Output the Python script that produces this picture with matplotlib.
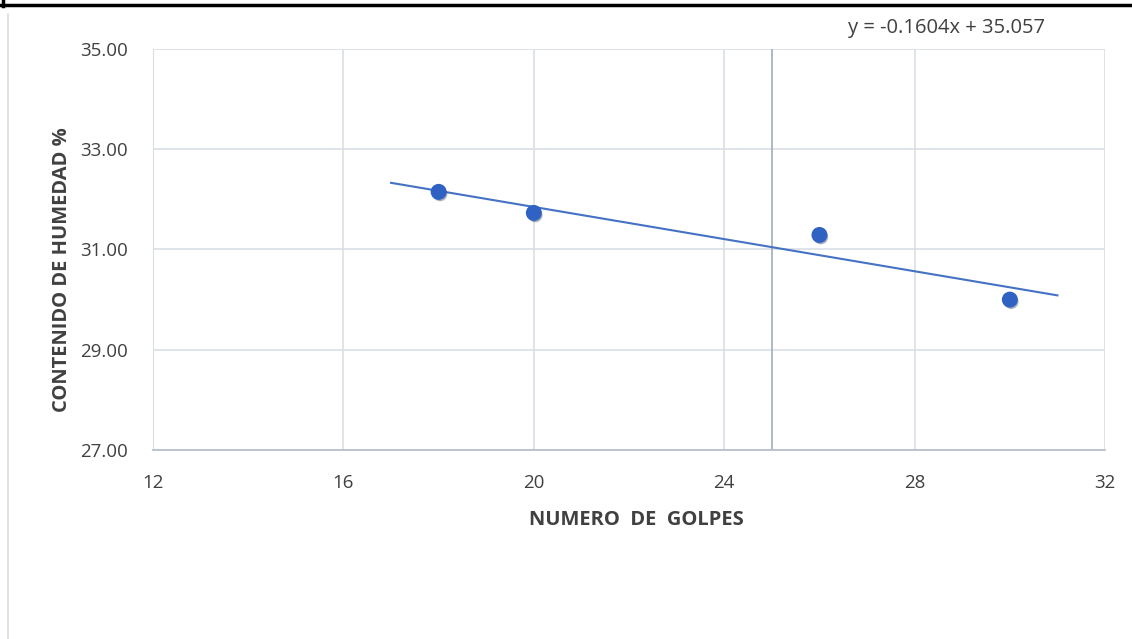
import matplotlib
matplotlib.use("Agg")
import matplotlib.pyplot as plt
from matplotlib.lines import Line2D
import matplotlib.patheffects as pe
import numpy as np

# data
golpes = [18, 20, 26, 30]
humedad = [32.15, 31.73, 31.29, 30.00]
slope = -0.1604
intercept = 35.057
trend_x = [17, 31]
x_ticks = [12, 16, 20, 24, 28, 32]
y_ticks = [27, 29, 31, 33, 35]
x_ref = 25

plt.rcParams['font.family'] = ['Open Sans', 'DejaVu Sans']
txt = '#404040'

fig = plt.figure(figsize=(11.32, 6.39), dpi=100)
ax = fig.add_axes([0.1352, 0.2958, 0.8410, 0.6275])

ax.set_xlim(12, 32)
ax.set_ylim(27, 35)
ax.set_xticks(x_ticks)
ax.set_yticks(y_ticks)
ax.set_yticklabels(['%.2f' % v for v in y_ticks])
ax.grid(True, color='#D9DEE6', linewidth=1.2)
ax.set_axisbelow(True)
for s in ['top', 'right']:
    ax.spines[s].set_visible(False)
ax.spines['left'].set_color('#D9DEE6')
ax.spines['bottom'].set_color('#B8C0CC')
ax.spines['bottom'].set_linewidth(1.3)
ax.tick_params(length=0, labelsize=13.5, colors=txt)
ax.tick_params(axis='y', pad=18)
ax.tick_params(axis='x', pad=17)

ax.axvline(x_ref, color='#A7B2C4', linewidth=1.3, zorder=1)

tx = np.array(trend_x)
ax.plot(tx, slope * tx + intercept, color='#4472C4', linewidth=1.5, zorder=2)
ax.plot(golpes, humedad, 'o', color='#2F62C2', markersize=10.5, zorder=3,
        path_effects=[pe.SimplePatchShadow(offset=(1, -1.5), alpha=0.35), pe.Normal()])

ax.set_xlabel('NUMERO  DE  GOLPES', fontsize=14.5, fontweight='bold', color=txt)
ax.set_ylabel('CONTENIDO DE HUMEDAD %', fontsize=14.5, fontweight='bold', color=txt)
ax.xaxis.set_label_coords(0.508, -0.150)
ax.yaxis.set_label_coords(-0.085, 0.449)

fig.text(946 / 1132, 1 - 28 / 639, 'y = -0.1604x + 35.057', ha='center', va='center',
         fontsize=14.5, color=txt)

# outer frame bits
fig.add_artist(Line2D([0, 1], [1 - 5 / 639, 1 - 5 / 639], color='black', linewidth=2.5))
fig.add_artist(Line2D([3 / 1132, 3 / 1132], [1, 1 - 6 / 639], color='black', linewidth=2.5))
fig.add_artist(Line2D([8 / 1132, 8 / 1132], [0, 1 - 14 / 639], color='#D9DEE6', linewidth=1.2))

fig.savefig('out.png', dpi=100)
